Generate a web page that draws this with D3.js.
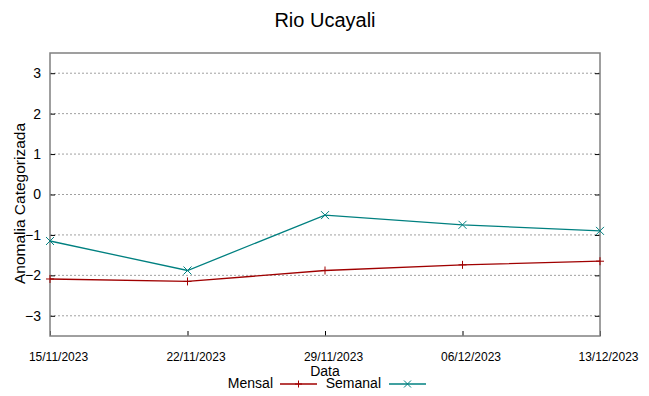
<!DOCTYPE html>
<html>
<head>
<meta charset="utf-8">
<script src="https://cdn.jsdelivr.net/npm/d3@7"></script>
<style>
  body { margin: 0; background: #fff; }
  text { font-family: "Liberation Sans", Arial, sans-serif; fill: #000; }
</style>
</head>
<body>
<div class="chart"></div>
<script>
// data
const dates = ['15/11/2023', '22/11/2023', '29/11/2023', '06/12/2023', '13/12/2023'];
const mensal = [-2.09, -2.15, -1.88, -1.74, -1.65];
const semanal = [-1.15, -1.88, -0.51, -0.75, -0.90];
const yTicks = [-3, -2, -1, 0, 1, 2, 3];

const parseDate = d3.timeParse('%d/%m/%Y');

const width = 649;
const height = 396;
const margin = { top: 53, right: 49, bottom: 60, left: 50 };
const widthChart = width - margin.left - margin.right;
const heightChart = height - margin.top - margin.bottom;

const series = [
    { name: 'Mensal', color: '#a00000', marker: 'plus', values: dates.map((d, i) => ({ date: parseDate(d), value: mensal[i] })) },
    { name: 'Semanal', color: '#008080', marker: 'cross', values: dates.map((d, i) => ({ date: parseDate(d), value: semanal[i] })) }
];

const xScale = d3.scaleTime()
    .domain(d3.extent(dates, parseDate))
    .range([0, widthChart]);
const yScale = d3.scaleLinear()
    .domain([-3.5, 3.5])
    .range([heightChart, 0]);

const svg = d3.select('.chart')
    .append('svg')
    .attr('width', width)
    .attr('height', height);

// title
svg.append('text')
    .attr('x', 325)
    .attr('y', 27)
    .attr('text-anchor', 'middle')
    .style('font-size', '20px')
    .text('Rio Ucayali');

const g = svg.append('g')
    .attr('transform', `translate(${margin.left},${margin.top})`);

// grid
g.append('g')
    .selectAll('line')
    .data(yTicks)
    .join('line')
    .attr('x1', 0)
    .attr('x2', widthChart)
    .attr('y1', d => yScale(d))
    .attr('y2', d => yScale(d))
    .style('stroke', '#a0a0a0')
    .style('stroke-width', 1)
    .style('stroke-dasharray', '2,2');

// y axis
const yAxis = d3.axisLeft(yScale)
    .tickValues(yTicks)
    .tickFormat(d3.format('d'))
    .tickSizeInner(-5)
    .tickSizeOuter(0)
    .tickPadding(9);
const yAxisDraw = g.append('g').attr('class', 'y-axis').call(yAxis);
yAxisDraw.select('.domain').remove();
yAxisDraw.selectAll('text').style('font-size', '14px').attr('font-family', null);
yAxisDraw.selectAll('line').style('stroke', '#000');

// right mirror ticks
const yAxisR = d3.axisRight(yScale)
    .tickValues(yTicks)
    .tickSizeInner(-5)
    .tickSizeOuter(0)
    .tickFormat('');
const yAxisRDraw = g.append('g').attr('transform', `translate(${widthChart},0)`).call(yAxisR);
yAxisRDraw.select('.domain').remove();

// x axis
const xAxis = d3.axisBottom(xScale)
    .tickValues(dates.map(parseDate))
    .tickFormat(d3.timeFormat('%d/%m/%Y'))
    .tickSizeInner(-5)
    .tickSizeOuter(0)
    .tickPadding(16);
const xAxisDraw = g.append('g')
    .attr('transform', `translate(0,${heightChart})`)
    .call(xAxis);
xAxisDraw.select('.domain').remove();
xAxisDraw.selectAll('text')
    .style('font-size', '12px')
    .attr('dx', 8)
    .attr('font-family', null);

// frame
g.append('rect')
    .attr('width', widthChart)
    .attr('height', heightChart)
    .style('fill', 'none')
    .style('stroke', '#808080')
    .style('stroke-width', 1.5);

// axis labels
svg.append('text')
    .attr('transform', `translate(25,${margin.top + heightChart / 2 + 9}) rotate(-90)`)
    .attr('text-anchor', 'middle')
    .style('font-size', '15.5px')
    .text('Anomalia Categorizada');
svg.append('text')
    .attr('x', 325)
    .attr('y', 376)
    .attr('text-anchor', 'middle')
    .style('font-size', '14px')
    .text('Data');

// lines
const lineGenerator = d3.line()
    .x(d => xScale(d.date))
    .y(d => yScale(d.value));

const markerPath = (type, s) => type === 'plus'
    ? `M${-s},0H${s}M0,${-s}V${s}`
    : `M${-s},${-s}L${s},${s}M${-s},${s}L${s},${-s}`;

series.forEach(s => {
    g.append('path')
        .attr('d', lineGenerator(s.values))
        .style('fill', 'none')
        .style('stroke', s.color)
        .style('stroke-width', 1.3);
    g.append('g')
        .selectAll('path')
        .data(s.values)
        .join('path')
        .attr('transform', d => `translate(${xScale(d.date)},${yScale(d.value)})`)
        .attr('d', markerPath(s.marker, 4))
        .style('stroke', s.color)
        .style('stroke-width', 1);
});

// legend
const legend = svg.append('g');
const legendItems = [
    { name: 'Mensal', textX: 273, lineX: 280 },
    { name: 'Semanal', textX: 381, lineX: 389 }
];
legendItems.forEach((item, i) => {
    const s = series[i];
    legend.append('text')
        .attr('x', item.textX)
        .attr('y', 388)
        .attr('text-anchor', 'end')
        .style('font-size', '14px')
        .text(item.name);
    legend.append('line')
        .attr('x1', item.lineX)
        .attr('x2', item.lineX + 37)
        .attr('y1', 384)
        .attr('y2', 384)
        .style('stroke', s.color)
        .style('stroke-width', 1.3);
    legend.append('path')
        .attr('transform', `translate(${item.lineX + 18.5},384)`)
        .attr('d', markerPath(s.marker, 3.5))
        .style('stroke', s.color);
});
</script>
</body>
</html>
